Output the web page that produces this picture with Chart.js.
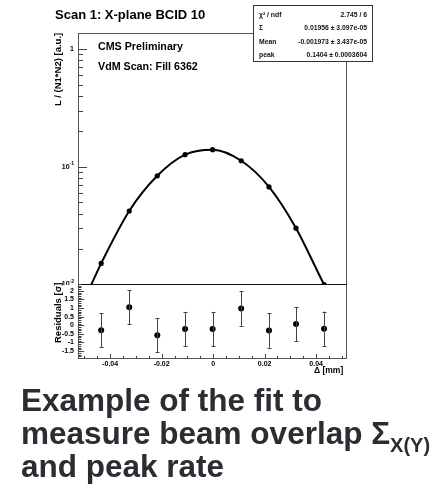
<!DOCTYPE html>
<html>
<head>
<meta charset="utf-8">
<script src="https://cdn.jsdelivr.net/npm/chart.js@4/dist/chart.umd.min.js"></script>
<style>
  html, body { margin: 0; padding: 0; background: #fff; }
  body { width: 434px; height: 490px; position: relative; overflow: hidden; font-family: "Liberation Sans", Arial, sans-serif; }
  .abs { position: absolute; white-space: nowrap; }
  canvas { position: absolute; left: 0; }
  #title { left: 55px; top: 7px; font-size: 13px; font-weight: bold; }
  .lbl { font-size: 10.7px; font-weight: bold; left: 98px; }
  .ytitle { font-size: 9.5px; font-weight: bold; transform-origin: 0 0; transform: rotate(-90deg); }
  #stats { left: 253px; top: 5px; width: 118px; height: 55px; border: 1px solid #333; background: #fff; font-size: 6.8px; font-weight: bold; color: #111; filter: grayscale(1); }
  #stats div { position: absolute; left: 5px; right: 5px; height: 10px; }
  #stats span { position: absolute; right: 0; }
  #xtitle { left: 314px; top: 365px; font-size: 8.5px; font-weight: bold; }
  #caption { left: 21px; top: 384px; font-size: 31.5px; line-height: 32.8px; font-weight: bold; color: #2c2c33; }
  #caption sub { font-size: 20px; vertical-align: -8px; line-height: 0; }
</style>
</head>
<body>
<canvas id="top" width="360" height="285" style="top:0;width:360px;height:285px"></canvas>
<canvas id="bot" width="360" height="92" style="top:284px;width:360px;height:92px"></canvas>

<div class="abs" id="title">Scan 1: X-plane BCID 10</div>
<div class="abs lbl" style="top:40px">CMS Preliminary</div>
<div class="abs lbl" style="top:60px">VdM Scan: Fill 6362</div>
<div class="abs ytitle" style="left:52px;top:106px">L / (N1*N2) [a.u.]</div>
<div class="abs ytitle" style="left:52px;top:343px">Residuals [σ]</div>
<div class="abs" id="xtitle">Δ [mm]</div>
<div class="abs" id="stats">
  <div style="top:5px">χ² / ndf<span>2.745 / 6</span></div>
  <div style="top:18px">Σ<span>0.01956 ± 3.097e-05</span></div>
  <div style="top:32px">Mean<span>-0.001973 ± 3.437e-05</span></div>
  <div style="top:45px">peak<span>0.1404 ± 0.0003604</span></div>
</div>
<div class="abs" id="caption">Example of the fit to<br>measure beam overlap Σ<sub>X(Y)</sub><br>and peak rate</div>

<script>
// separations (mm) of the scan steps
var sepX = [-0.0435, -0.0326, -0.0217, -0.0109, -0.0002, 0.0109, 0.0217, 0.0322, 0.0431];
// normalised rate L/(N1*N2)
var rate = [0.0151, 0.0421, 0.0838, 0.1267, 0.1397, 0.1125, 0.0675, 0.0301, 0.0100];
// fit curve
var fitX = [-0.0474, -0.0435, -0.0326, -0.0217, -0.0109, -0.0002, 0.0109, 0.0217, 0.0322, 0.0431, 0.0445];
var fitY = [0.0099, 0.0151, 0.0421, 0.0838, 0.1267, 0.1397, 0.1125, 0.0675, 0.0301, 0.0100, 0.0088];
// residuals and their errors (sigma)
var resid = [-0.29, 1.05, -0.58, -0.22, -0.22, 0.97, -0.31, 0.07, -0.20];
var residErr = [1, 1, 1, 1, 1, 1, 1, 1, 1];

// tick positions and labels
var logMajor = [0.01, 0.1, 1];
var logMinor = [0.02, 0.03, 0.04, 0.05, 0.06, 0.07, 0.08, 0.09, 0.2, 0.3, 0.4, 0.5, 0.6, 0.7, 0.8, 0.9];
var logBase = ['10', '10', '1'];
var logExp = ['-2', '-1', ''];
var resMajor = [-1.5, -1, -0.5, 0, 0.5, 1, 1.5, 2];
var resLabels = ['-1.5', '-1', '-0.5', '0', '0.5', '1', '1.5', '2'];
var xMajor = [-0.04, -0.02, 0, 0.02, 0.04];
var xLabels = ['-0.04', '-0.02', '0', '0.02', '0.04'];

var xMin = -0.0525, xMax = 0.052;
var FONT = 'bold 7px "Liberation Sans"';

function range(a, b, step) {
  var out = [];
  for (var v = a; v <= b + 1e-9; v += step) out.push(Math.round(v * 1e4) / 1e4);
  return out;
}

// draws the ROOT-like frame, inward tick marks and tick labels
var frameTicks = {
  id: 'frameTicks',
  afterDraw: function (chart, args, opts) {
    var ctx = chart.ctx, a = chart.chartArea;
    var xs = chart.scales.x, ys = chart.scales.y;
    var L = Math.round(a.left), R = Math.round(a.right), T = Math.round(a.top), B = Math.round(a.bottom);
    ctx.save();
    // frame
    ctx.fillStyle = '#555';
    ctx.fillRect(L, T, 1, B - T);
    ctx.fillRect(R - 1, T, 1, B - T);
    ctx.fillRect(L, T, R - L, 1);
    ctx.fillRect(L, B - 1, R - L, 1);
    ctx.fillStyle = '#111';
    if (opts.bottomLine) ctx.fillRect(L, B - 1, R - L, 1);
    if (opts.topLine) ctx.fillRect(L, T, R - L, 1);
    // ticks
    ctx.fillStyle = '#444';
    opts.yTicks.forEach(function (t) {
      var p = Math.round(ys.getPixelForValue(t.v));
      ctx.fillRect(L, p, 1 + t.len, 1);
    });
    (opts.xTicks || []).forEach(function (t) {
      var p = Math.round(xs.getPixelForValue(t.v));
      ctx.fillRect(p, B - 1 - t.len, 1, 1 + t.len);
    });

    ctx.fillStyle = '#000';
    ctx.font = FONT;
    ctx.textAlign = 'right';
    ctx.textBaseline = 'middle';
    opts.yLabels.forEach(function (l) {
      var py = ys.getPixelForValue(l.v);
      var px = L - 4;
      if (l.exp) {
        ctx.font = 'bold 5px "Liberation Sans"';
        ctx.fillText(l.exp, px, py - 3);
        px -= ctx.measureText(l.exp).width;
        ctx.font = FONT;
      }
      ctx.fillText(l.text, px, py);
    });
    if (opts.xLabels) {
      ctx.textAlign = 'center';
      ctx.textBaseline = 'top';
      opts.xLabels.forEach(function (l) {
        ctx.fillText(l.text, xs.getPixelForValue(l.v), B + 2);
      });
    }
    ctx.restore();
  }
};

// error bars for the residual panel
var errorBars = {
  id: 'errorBars',
  afterDatasetsDraw: function (chart) {
    var ctx = chart.ctx, xs = chart.scales.x, ys = chart.scales.y;
    ctx.save();
    ctx.strokeStyle = '#444';
    ctx.lineWidth = 1;
    ctx.beginPath();
    sepX.forEach(function (x, i) {
      var px = Math.round(xs.getPixelForValue(x)) + 0.5;
      var y1 = ys.getPixelForValue(resid[i] - residErr[i]);
      var y2 = ys.getPixelForValue(resid[i] + residErr[i]);
      ctx.moveTo(px, y1); ctx.lineTo(px, y2);
      ctx.moveTo(px - 2, Math.round(y1) + 0.5); ctx.lineTo(px + 2, Math.round(y1) + 0.5);
      ctx.moveTo(px - 2, Math.round(y2) + 0.5); ctx.lineTo(px + 2, Math.round(y2) + 0.5);
    });
    ctx.stroke();
    ctx.restore();
  }
};

var logTickList = logMajor.map(function (v) { return { v: v, len: 8 }; })
  .concat(logMinor.map(function (v) { return { v: v, len: 4 }; }));
var resTickList = range(-1.9, 2.4, 0.1).map(function (v) {
  var major = Math.abs(v * 2 - Math.round(v * 2)) < 1e-6;
  return { v: v, len: major ? 5 : 2.5 };
});
var xTickList = range(-0.05, 0.05, 0.005).map(function (v) {
  var major = Math.abs(v / 0.02 - Math.round(v / 0.02)) < 1e-6;
  return { v: v, len: major ? 4 : 2 };
});

new Chart(document.getElementById('top'), {
  type: 'scatter',
  data: {
    datasets: [
      {
        type: 'line',
        data: fitX.map(function (x, i) { return { x: x, y: fitY[i] }; }),
        borderColor: '#000',
        borderWidth: 2,
        pointRadius: 0,
        cubicInterpolationMode: 'monotone',
        fill: false
      },
      {
        data: sepX.map(function (x, i) { return { x: x, y: rate[i] }; }),
        backgroundColor: '#000',
        borderWidth: 0,
        pointRadius: 2.6
      }
    ]
  },
  options: {
    responsive: false,
    animation: false,
    events: [],
    layout: { autoPadding: false, padding: { top: 33, right: 13, left: 78, bottom: 0 } },
    plugins: {
      legend: { display: false }, tooltip: { enabled: false },
      frameTicks: {
        yTicks: logTickList, bottomLine: true,
        yLabels: logMajor.map(function (v, i) { return { v: v, text: logBase[i], exp: logExp[i] }; })
      }
    },
    scales: {
      x: { type: 'linear', min: xMin, max: xMax, display: false },
      y: { type: 'logarithmic', min: 0.0099, max: 1.37, display: false }
    }
  },
  plugins: [frameTicks]
});

new Chart(document.getElementById('bot'), {
  type: 'scatter',
  data: {
    datasets: [{
      data: sepX.map(function (x, i) { return { x: x, y: resid[i] }; }),
      backgroundColor: '#000',
      borderWidth: 0,
      pointRadius: 3
    }]
  },
  options: {
    responsive: false,
    animation: false,
    events: [],
    layout: { autoPadding: false, padding: { top: 0, right: 13, left: 78, bottom: 17 } },
    plugins: {
      legend: { display: false }, tooltip: { enabled: false },
      frameTicks: {
        yTicks: resTickList, xTicks: xTickList, topLine: true,
        yLabels: resMajor.map(function (v, i) { return { v: v, text: resLabels[i] }; }),
        xLabels: xMajor.map(function (v, i) { return { v: v, text: xLabels[i] }; })
      }
    },
    scales: {
      x: { type: 'linear', min: xMin, max: xMax, display: false },
      y: { type: 'linear', min: -1.96, max: 2.4, display: false }
    }
  },
  plugins: [frameTicks, errorBars]
});
</script>
</body>
</html>
